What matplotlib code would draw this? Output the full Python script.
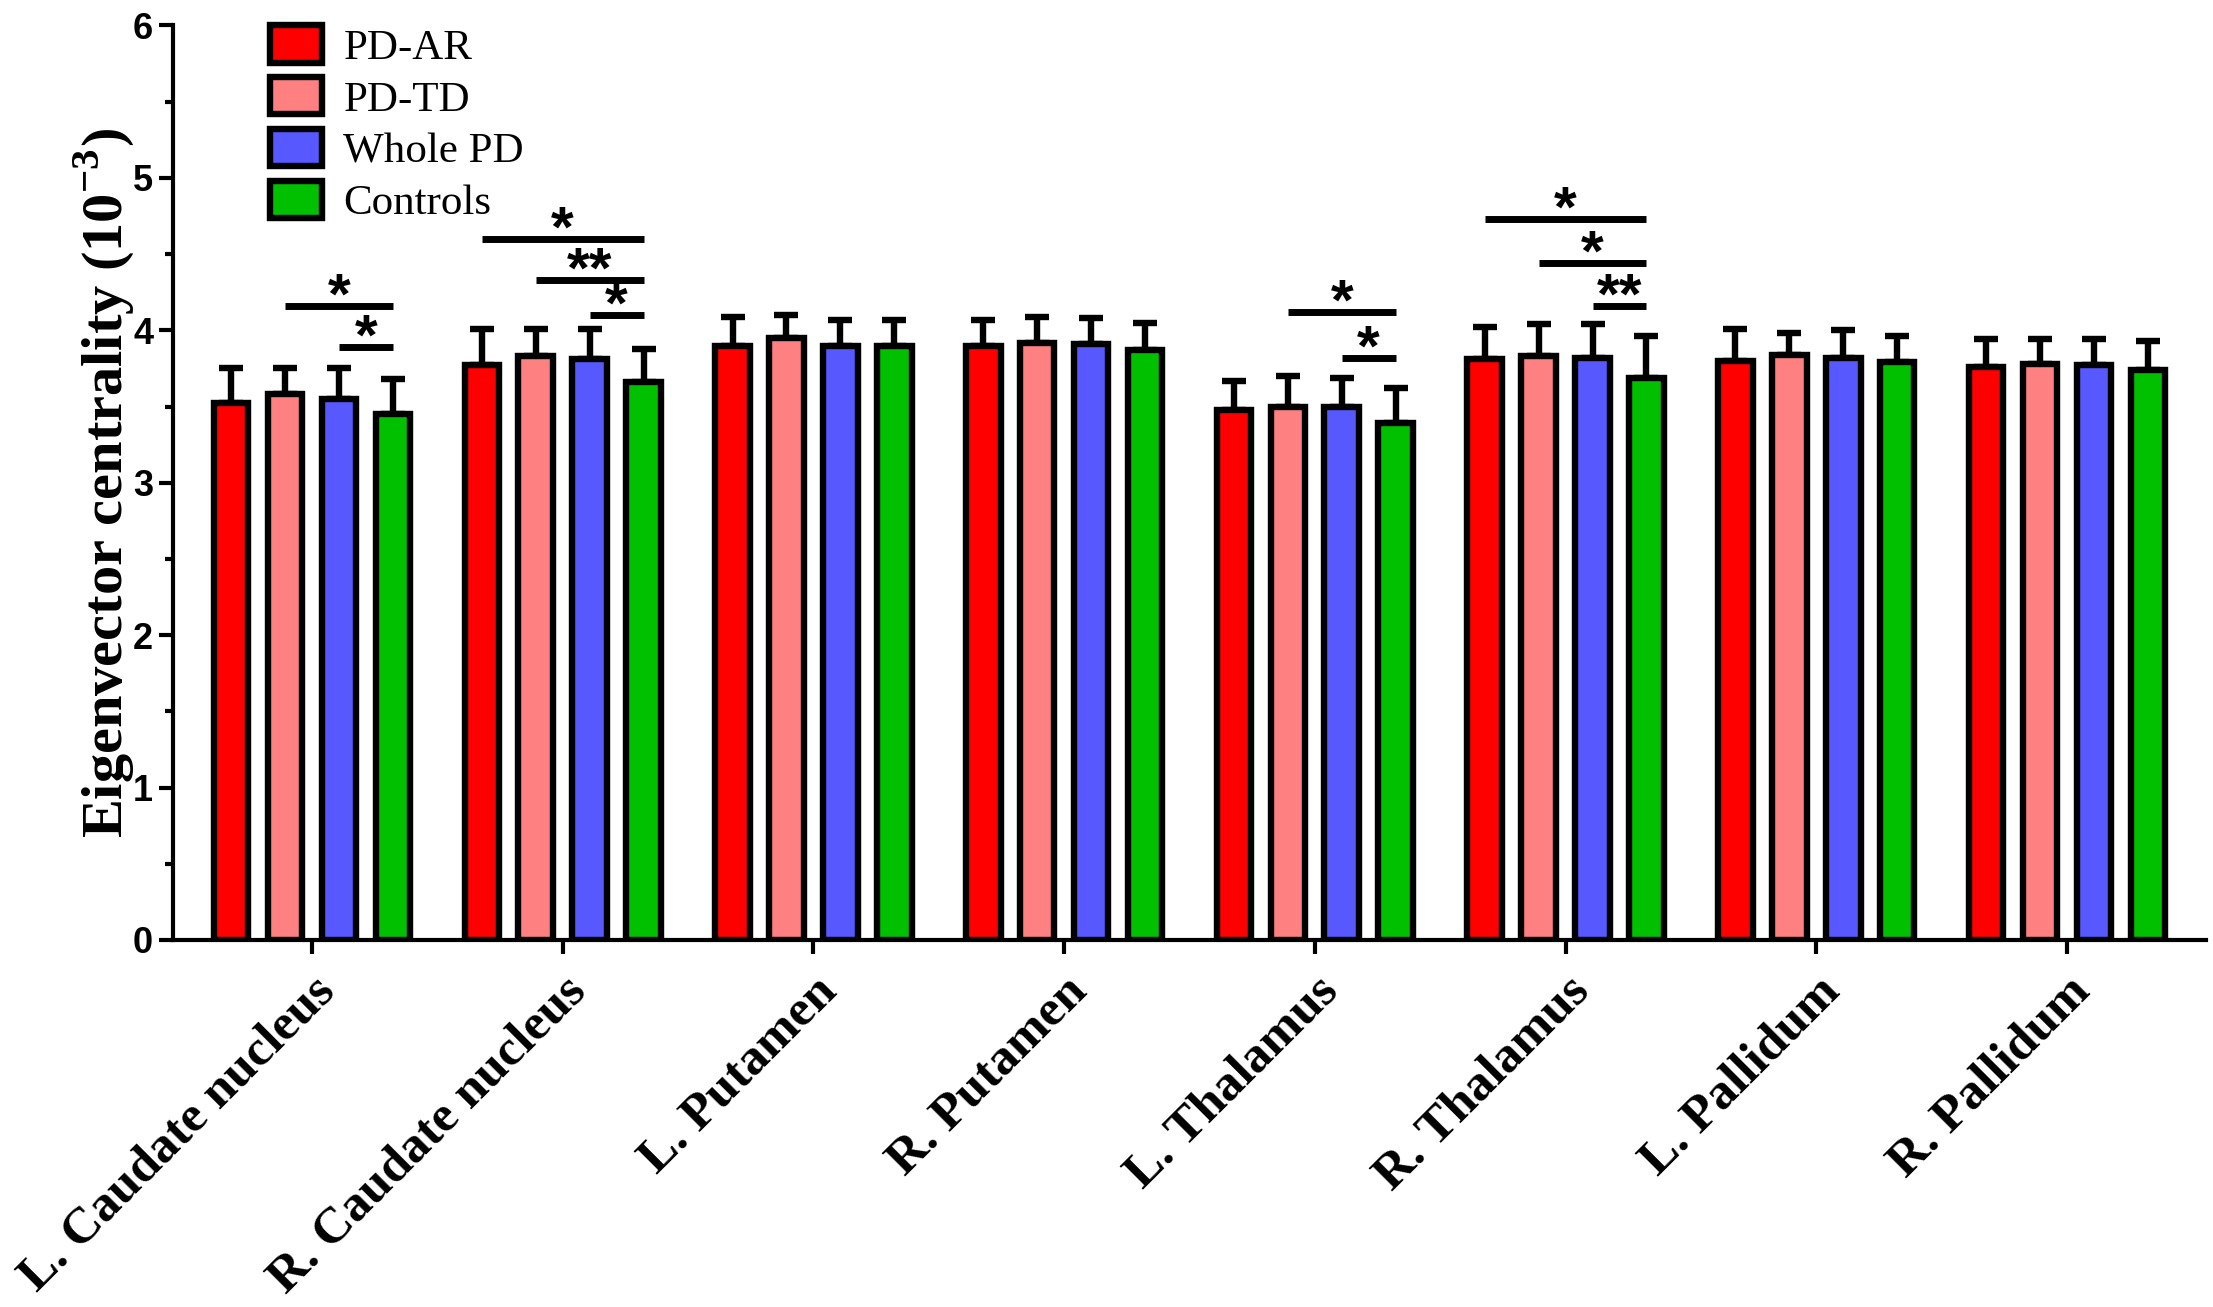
import matplotlib
matplotlib.use("Agg")
import matplotlib.pyplot as plt
import numpy as np

regions = ['L. Caudate nucleus', 'R. Caudate nucleus', 'L. Putamen', 'R. Putamen',
           'L. Thalamus', 'R. Thalamus', 'L. Pallidum', 'R. Pallidum']
series_names = ['PD-AR', 'PD-TD', 'Whole PD', 'Controls']

pd_ar_mean = [3.52, 3.77, 3.90, 3.90, 3.48, 3.81, 3.80, 3.76]
pd_ar_upper = [3.75, 4.01, 4.09, 4.07, 3.67, 4.02, 4.01, 3.94]
pd_td_mean = [3.58, 3.83, 3.95, 3.92, 3.50, 3.83, 3.84, 3.78]
pd_td_upper = [3.75, 4.01, 4.10, 4.09, 3.70, 4.04, 3.98, 3.94]
whole_mean = [3.55, 3.81, 3.90, 3.91, 3.50, 3.82, 3.82, 3.77]
whole_upper = [3.75, 4.01, 4.07, 4.08, 3.69, 4.04, 4.00, 3.94]
ctrl_mean = [3.45, 3.66, 3.90, 3.87, 3.39, 3.69, 3.79, 3.74]
ctrl_upper = [3.68, 3.88, 4.07, 4.05, 3.62, 3.96, 3.96, 3.93]

# significance brackets: (region index, series from, series to, y, label)
sig_region = [0, 0, 1, 1, 1, 4, 4, 5, 5, 5]
sig_from = [1, 2, 0, 1, 2, 1, 2, 0, 1, 2]
sig_to = [3, 3, 3, 3, 3, 3, 3, 3, 3, 3]
sig_y = [4.16, 3.89, 4.60, 4.33, 4.10, 4.12, 3.82, 4.73, 4.44, 4.16]
sig_label = ['*', '*', '*', '**', '*', '*', '*', '*', '*', '**']

colors = ['#FF0000', '#FF8080', '#5858FF', '#00C000']

plt.rcParams['mathtext.fontset'] = 'custom'
plt.rcParams['mathtext.rm'] = 'Liberation Serif'
plt.rcParams['mathtext.bf'] = 'Liberation Serif:bold'

fig = plt.figure(figsize=(22.13, 13.07), dpi=100)
ax = fig.add_axes([0.078, 0.2808, 0.919, 0.6997])

means = [pd_ar_mean, pd_td_mean, whole_mean, ctrl_mean]
uppers = [pd_ar_upper, pd_td_upper, whole_upper, ctrl_upper]
x = np.arange(len(regions))
step = 0.215
width = 0.138
lw = 4.6
handles = []
for i, (m, u) in enumerate(zip(means, uppers)):
    xs = x + (i - 1.5) * step
    m = np.array(m)
    err = np.array(u) - m
    ax.errorbar(xs, m, yerr=[np.zeros_like(err), err], fmt='none', ecolor='black',
                elinewidth=lw, capsize=8.5, capthick=lw, zorder=2)
    b = ax.bar(xs, m, width=width, color=colors[i], edgecolor='black', linewidth=lw,
               zorder=3, label=series_names[i])
    handles.append(b)

for r, a, bb, yv, lab in zip(sig_region, sig_from, sig_to, sig_y, sig_label):
    x0 = r + (a - 1.5) * step
    x1 = r + (bb - 1.5) * step
    ax.plot([x0, x1], [yv, yv], color='black', lw=5, solid_capstyle='butt', zorder=4)
    ax.text((x0 + x1) / 2, yv - 0.05, lab, ha='center', va='baseline', fontsize=42,
            family='Liberation Sans', fontweight='bold', zorder=4)

ax.set_xlim(-0.556, 7.556)
ax.set_ylim(0, 6)
ax.set_yticks(range(0, 7))
ax.set_yticks(np.arange(0.5, 6, 1.0), minor=True)
ax.set_xticks(x)
ax.set_xticklabels(regions, rotation=45, ha='right', va='top', rotation_mode='anchor',
                   family='Liberation Serif', fontweight='bold', fontsize=37)
for t in ax.get_yticklabels():
    t.set_family('Liberation Sans')
    t.set_fontweight('bold')
    t.set_fontsize(26)

ax.spines['top'].set_visible(False)
ax.spines['right'].set_visible(False)
ax.spines['left'].set_linewidth(3)
ax.spines['bottom'].set_linewidth(3)
ax.tick_params(axis='y', which='major', length=10, width=3, pad=4)
ax.tick_params(axis='y', which='minor', length=6, width=3)
ax.tick_params(axis='x', which='major', length=10, width=3, pad=10)

ax.set_ylabel(r'Eigenvector centrality (10$^{\mathbf{-3}}$)', family='Liberation Serif',
              fontweight='bold', fontsize=42, labelpad=-2)

leg = ax.legend(handles=handles, labels=series_names, loc='upper left',
                bbox_to_anchor=(0.048, 1.0), frameon=False, borderpad=0, borderaxespad=0,
                handlelength=1.2, handleheight=0.95, labelspacing=0.22, handletextpad=0.5,
                prop={'family': 'Liberation Serif', 'size': 31})

fig.savefig('out.png', dpi=100)
